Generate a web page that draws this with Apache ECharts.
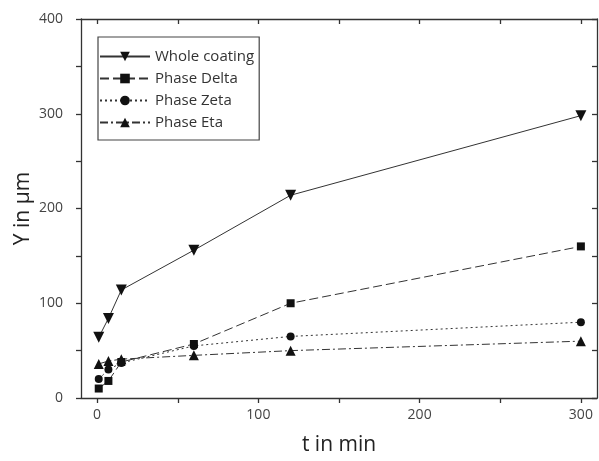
<!DOCTYPE html>
<html>
<head>
<meta charset="utf-8">
<script src="https://cdn.jsdelivr.net/npm/echarts@6/dist/echarts.min.js"></script>
<style>html,body{margin:0;padding:0;background:#fff}#c{width:599px;height:461px}</style>
</head>
<body>
<div id="c"></div>
<script>
var times = [1, 7, 15, 60, 120, 300];
var wholeCoating = [64, 84, 114, 156, 214, 298];
var phaseDelta = [10, 18, 38, 57, 100, 160];
var phaseZeta = [20, 30, 37, 55, 65, 80];
var phaseEta = [36, 39, 41, 45, 50, 60];
var xTickLabels = [0, 100, 200, 300];
var xTicks = [0, 50, 100, 150, 200, 250, 300];
var yTickLabels = [0, 100, 200, 300, 400];
var yTicks = [0, 50, 100, 150, 200, 250, 300, 350, 400];

function pairs(vals) { return times.map(function (t, i) { return [t, vals[i]]; }); }

var font = 'Open Sans';
var axisColor = '#333';
var chart = echarts.init(document.getElementById('c'));
function mkSeries(name, vals, symbol, size, rot, dash) {
  return {
    name: name, type: 'line', data: pairs(vals), symbol: symbol, symbolSize: size, symbolRotate: rot,
    xAxisIndex: 0, yAxisIndex: 0,
    lineStyle: { color: '#333', width: 1, type: dash },
    itemStyle: { color: '#111' }, animation: false
  };
}
chart.setOption({
  backgroundColor: '#fff',
  animation: false,
  grid: { left: 81, right: 2, top: 19, bottom: 62 },
  legend: {
    orient: 'vertical', left: 98, top: 37,
    padding: [12, 5, 10, 1], itemGap: 7, itemWidth: 50, itemHeight: 12,
    borderColor: '#444', borderWidth: 1.2,
    textStyle: { fontFamily: font, fontSize: 15, color: '#333' },
    data: ['Whole coating', 'Phase Delta', 'Phase Zeta', 'Phase Eta']
  },
  xAxis: [{
    type: 'value', min: -10, max: 310, position: 'bottom',
    name: 't in min', nameLocation: 'middle', nameGap: 37, nameMoveOverlap: false,
    nameTextStyle: { fontFamily: font, fontSize: 21, color: '#222' },
    axisLine: { show: true, lineStyle: { color: axisColor, width: 1.3 } },
    axisTick: { show: true, inside: false, length: 5, customValues: xTicks, lineStyle: { color: axisColor, width: 1.3 } },
    axisLabel: { customValues: xTickLabels, margin: 10, fontFamily: font, fontSize: 14, color: '#444' },
    splitLine: { show: false }
  }, {
    type: 'value', min: -10, max: 310, position: 'top',
    axisLine: { show: true, onZero: false, lineStyle: { color: axisColor, width: 1.3 } },
    axisTick: { show: true, inside: true, length: 5, customValues: xTicks, lineStyle: { color: axisColor, width: 1.3 } },
    axisLabel: { show: false }, splitLine: { show: false }
  }],
  yAxis: [{
    type: 'value', min: 0, max: 400, interval: 100, position: 'left',
    name: 'Y in \u00b5m', nameLocation: 'middle', nameGap: 47, nameMoveOverlap: false,
    nameTextStyle: { fontFamily: font, fontSize: 21, color: '#222' },
    axisLine: { show: true, onZero: false, lineStyle: { color: axisColor, width: 1.3 } },
    axisTick: { show: true, inside: false, length: 5, customValues: yTicks, lineStyle: { color: axisColor, width: 1.3 } },
    axisLabel: { customValues: yTickLabels, margin: 18, fontFamily: font, fontSize: 14, color: '#444' },
    splitLine: { show: false }
  }, {
    type: 'value', min: 0, max: 400, interval: 100, position: 'right',
    axisLine: { show: true, onZero: false, lineStyle: { color: axisColor, width: 1.3 } },
    axisTick: { show: true, inside: true, length: 5, customValues: yTicks, lineStyle: { color: axisColor, width: 1.3 } },
    axisLabel: { show: false }, splitLine: { show: false }
  }],
  series: [
    mkSeries('Whole coating', wholeCoating, 'triangle', 11, 180, 'solid'),
    mkSeries('Phase Delta', phaseDelta, 'rect', 8, 0, [9, 4]),
    mkSeries('Phase Zeta', phaseZeta, 'circle', 8, 0, [2, 3]),
    mkSeries('Phase Eta', phaseEta, 'triangle', 10, 0, [8, 3, 2, 3])
  ]
});
</script>
</body>
</html>
